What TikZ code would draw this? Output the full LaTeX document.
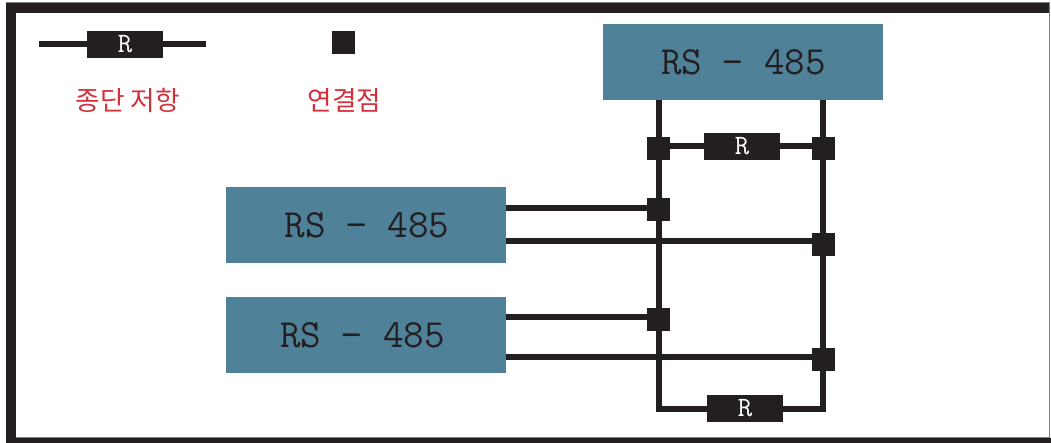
\documentclass[tikz,border=0pt]{standalone}
\usepackage{fontspec}
\usetikzlibrary{backgrounds}
\newfontfamily\krfont{Noto Sans CJK KR}
\definecolor{ink}{HTML}{231F20}
\definecolor{teal485}{HTML}{4F8199}
\definecolor{redlab}{HTML}{D2303C}
\tikzset{
  x=0.75pt,y=-0.75pt,
  wire/.style={draw=ink,line width=4.5pt},
  dev/.style={fill=teal485,draw=none,minimum width=210pt,minimum height=57pt,inner sep=0pt},
  devtext/.style={text=ink,inner sep=0pt,font=\ttfamily\fontsize{30}{30}\selectfont},
  res/.style={fill=ink,draw=none,text=white,minimum width=57pt,minimum height=20.25pt,inner sep=0pt,font=\ttfamily\fontsize{21}{21}\selectfont},
  junc/.style={fill=ink,draw=none,minimum size=17.25pt,inner sep=0pt},
  redtext/.style={text=redlab,inner sep=0pt,font=\krfont\fontsize{20}{20}\selectfont},
}
\begin{document}
\begin{tikzpicture}
\useasboundingbox (0,0) rectangle (1051,443);
% frame
\fill[ink] (6,3) rectangle (1049,13);
\fill[ink] (6,3) rectangle (16,443);
\fill[ink] (6,438) rectangle (1051,443);
\fill[gray] (6,2) rectangle (1050,3);
\fill[gray] (1049,2) rectangle (1050,438);
\fill[gray] (16,437) rectangle (1050,438);
% devices
\node[dev] (top) at (743,62) {};
\node[dev] (d1) at (366,225) {};
\node[dev] (d2) at (366,335) {};
\node[devtext] (t0) at (743.5,62) {RS − 485};
\node[devtext] (t1) at (367,225) {RS − 485};
\node[devtext] (t2) at (362.5,335) {RS − 485};
% junctions and resistors
\node[junc] (ja) at (658.5,148.5) {};
\node[junc] (jb) at (823.5,148.5) {};
\node[junc] (jc) at (658.5,209.5) {};
\node[junc] (jd) at (823.5,244.5) {};
\node[junc] (je) at (658.5,319.5) {};
\node[junc] (jf) at (823.5,359.5) {};
\node[res] (r1) at (742,146.5) {R};
\node[res] (r2) at (745,408.5) {R};
% wire anchors
\coordinate (tl) at (659,100);
\coordinate (tr) at (823,100);
\coordinate (bl) at (659,409);
\coordinate (br) at (823,409);
\coordinate (w1) at (506,207.5);
\coordinate (w2) at (506,241.3);
\coordinate (w3) at (506,316.7);
\coordinate (w4) at (506,356.7);
\coordinate (ra) at (659,145.7);
\coordinate (rb) at (823,145.7);
% legend
\coordinate (la) at (39,44);
\coordinate (lb) at (206,44);
\node[res] (lr) at (125,44.5) {R};
\node[junc] (lj) at (343.5,42.5) {};
\node[redtext] (l1) at (128,100) {종단 저항};
\node[redtext] (l2) at (344.5,100) {연결점};
% wires
\begin{pgfonlayer}{background}
\draw[wire] (tl) -- (bl);
\draw[wire] (tr) -- (br);
\draw[wire,line cap=rect] (bl) -- (br);
\draw[wire] (ra) -- (rb);
\draw[wire] (w1) -- (w1 -| jc);
\draw[wire] (w2) -- (w2 -| jd);
\draw[wire] (w3) -- (w3 -| je);
\draw[wire] (w4) -- (w4 -| jf);
\draw[wire] (la) -- (lb);
\end{pgfonlayer}
\end{tikzpicture}
\end{document}
